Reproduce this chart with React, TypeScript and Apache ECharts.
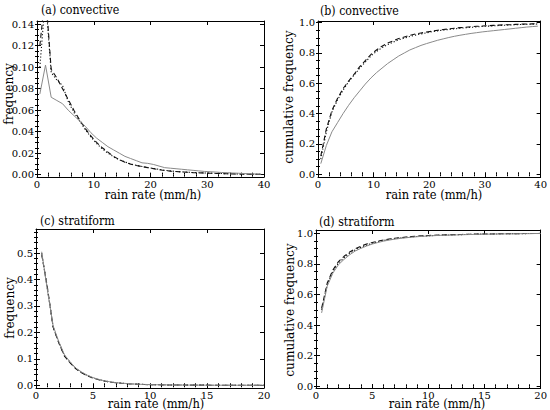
import React, { useEffect, useRef } from "react";
import * as echarts from "echarts";

// ---------- data ----------
const convX = [0.5, 1.5, 2.5, 3.5, 4.5, 5.5, 6.5, 7.5, 8.5, 9.5, 10.5, 11.5, 12.5, 13.5, 14.5, 15.5, 16.5, 17.5, 18.5, 19.5, 20.5, 21.5, 22.5, 23.5, 24.5, 25.5, 26.5, 27.5, 28.5, 29.5, 30.5, 31.5, 32.5, 33.5, 34.5, 35.5, 36.5, 37.5, 38.5, 39.5];

const convFreqSolid = [0.075, 0.102, 0.072, 0.069, 0.066, 0.060, 0.055, 0.050, 0.045, 0.039, 0.034, 0.030, 0.026, 0.023, 0.020, 0.017, 0.015, 0.013, 0.011, 0.0105, 0.0095, 0.008, 0.0065, 0.006, 0.0055, 0.005, 0.0045, 0.004, 0.0035, 0.003, 0.0027, 0.0024, 0.002, 0.0018, 0.0015, 0.0013, 0.001, 0.0008, 0.0006, 0.0004];
const convFreqDashed = [0.12, 0.17, 0.098, 0.090, 0.080, 0.070, 0.060, 0.051, 0.043, 0.036, 0.030, 0.025, 0.021, 0.017, 0.014, 0.0115, 0.0098, 0.0085, 0.0075, 0.0065, 0.0056, 0.0046, 0.0038, 0.0033, 0.0029, 0.0025, 0.0022, 0.0019, 0.0017, 0.0015, 0.0013, 0.0011, 0.001, 0.0008, 0.0007, 0.0006, 0.0005, 0.0004, 0.0003, 0.0002];
const convFreqDotted = [0.10, 0.165, 0.095, 0.088, 0.083, 0.068, 0.058, 0.050, 0.042, 0.035, 0.029, 0.024, 0.020, 0.0165, 0.0138, 0.0118, 0.010, 0.0087, 0.0076, 0.0066, 0.0058, 0.0049, 0.0041, 0.0035, 0.003, 0.0026, 0.0023, 0.002, 0.0018, 0.0016, 0.0014, 0.0012, 0.001, 0.0009, 0.0008, 0.0007, 0.0006, 0.0005, 0.0004, 0.0003];

const convCumSolid = [0.07, 0.19, 0.28, 0.34, 0.40, 0.455, 0.505, 0.55, 0.595, 0.635, 0.67, 0.70, 0.73, 0.755, 0.78, 0.80, 0.82, 0.835, 0.85, 0.862, 0.873, 0.884, 0.893, 0.902, 0.91, 0.917, 0.923, 0.929, 0.934, 0.939, 0.943, 0.947, 0.951, 0.955, 0.959, 0.963, 0.967, 0.971, 0.974, 0.977];
const convCumDashed = [0.12, 0.30, 0.42, 0.50, 0.565, 0.615, 0.66, 0.71, 0.75, 0.79, 0.82, 0.845, 0.865, 0.88, 0.895, 0.906, 0.916, 0.925, 0.932, 0.938, 0.944, 0.95, 0.955, 0.959, 0.963, 0.967, 0.97, 0.973, 0.976, 0.978, 0.98, 0.982, 0.984, 0.986, 0.987, 0.989, 0.99, 0.991, 0.992, 0.993];
const convCumDotted = [0.10, 0.28, 0.41, 0.49, 0.555, 0.61, 0.655, 0.70, 0.74, 0.78, 0.81, 0.835, 0.855, 0.872, 0.887, 0.898, 0.909, 0.918, 0.926, 0.933, 0.94, 0.946, 0.951, 0.955, 0.959, 0.963, 0.966, 0.969, 0.972, 0.975, 0.977, 0.979, 0.981, 0.983, 0.985, 0.986, 0.988, 0.989, 0.99, 0.991];

const stratX = [0.5, 1, 1.5, 2, 2.5, 3, 3.5, 4, 4.5, 5, 5.5, 6, 6.5, 7, 7.5, 8, 8.5, 9, 9.5, 10, 10.5, 11, 11.5, 12, 12.5, 13, 13.5, 14, 14.5, 15, 15.5, 16, 16.5, 17, 17.5, 18, 18.5, 19, 19.5, 20];

const stratFreqSolid = [0.505, 0.36, 0.225, 0.165, 0.115, 0.088, 0.065, 0.05, 0.038, 0.029, 0.022, 0.017, 0.013, 0.010, 0.008, 0.0065, 0.005, 0.004, 0.0032, 0.0026, 0.002, 0.0017, 0.0014, 0.0012, 0.001, 0.0008, 0.0007, 0.0006, 0.0005, 0.0004, 0.0003, 0.0003, 0.0002, 0.0002, 0.0002, 0.0001, 0.0001, 0.0001, 0.0001, 0.0001];
const stratFreqDashed = [0.495, 0.37, 0.22, 0.16, 0.11, 0.085, 0.062, 0.047, 0.036, 0.027, 0.021, 0.016, 0.012, 0.0095, 0.0075, 0.006, 0.0047, 0.0038, 0.003, 0.0024, 0.0019, 0.0016, 0.0013, 0.0011, 0.0009, 0.0008, 0.0007, 0.0006, 0.0005, 0.0004, 0.0003, 0.0003, 0.0002, 0.0002, 0.0002, 0.0001, 0.0001, 0.0001, 0.0001, 0.0001];
const stratFreqDotted = [0.50, 0.365, 0.222, 0.162, 0.112, 0.086, 0.063, 0.048, 0.037, 0.028, 0.0215, 0.0165, 0.0125, 0.0098, 0.0078, 0.0062, 0.0048, 0.0039, 0.0031, 0.0025, 0.002, 0.0016, 0.0013, 0.0011, 0.0009, 0.0008, 0.0007, 0.0006, 0.0005, 0.0004, 0.0003, 0.0003, 0.0002, 0.0002, 0.0002, 0.0001, 0.0001, 0.0001, 0.0001, 0.0001];

const stratCumSolid = [0.48, 0.655, 0.74, 0.795, 0.83, 0.86, 0.885, 0.902, 0.917, 0.93, 0.94, 0.949, 0.956, 0.962, 0.967, 0.971, 0.975, 0.978, 0.981, 0.983, 0.985, 0.987, 0.988, 0.989, 0.99, 0.991, 0.992, 0.993, 0.994, 0.995, 0.995, 0.996, 0.996, 0.997, 0.997, 0.998, 0.998, 0.998, 0.999, 0.999];
const stratCumDashed = [0.51, 0.675, 0.76, 0.815, 0.85, 0.878, 0.90, 0.916, 0.93, 0.94, 0.949, 0.957, 0.963, 0.968, 0.972, 0.976, 0.979, 0.982, 0.984, 0.986, 0.988, 0.989, 0.99, 0.991, 0.992, 0.993, 0.994, 0.995, 0.995, 0.996, 0.996, 0.997, 0.997, 0.998, 0.998, 0.998, 0.999, 0.999, 0.999, 1.0];
const stratCumDotted = [0.50, 0.665, 0.75, 0.805, 0.84, 0.87, 0.892, 0.909, 0.923, 0.935, 0.945, 0.953, 0.96, 0.965, 0.97, 0.974, 0.977, 0.98, 0.982, 0.984, 0.986, 0.988, 0.989, 0.99, 0.991, 0.992, 0.993, 0.994, 0.995, 0.995, 0.996, 0.996, 0.997, 0.997, 0.998, 0.998, 0.998, 0.999, 0.999, 0.999];

// tick labels
const convXTicks = [0, 10, 20, 30, 40];
const stratXTicks = [0, 5, 10, 15, 20];
const convFreqTicks = [0, 0.02, 0.04, 0.06, 0.08, 0.10, 0.12, 0.14];
const cumTicks = [0, 0.2, 0.4, 0.6, 0.8, 1.0];
const stratFreqTicks = [0, 0.1, 0.2, 0.3, 0.4, 0.5];

const titles = ["(a) convective", "(b) convective", "(c) stratiform", "(d) stratiform"];
const xName = "rain rate (mm/h)";
const yNames = ["frequency", "cumulative frequency", "frequency", "cumulative frequency"];

const FONT = "DejaVu Serif";

function steps(from: number, to: number, step: number): number[] {
  const out: number[] = [];
  const n = Math.round((to - from) / step);
  for (let i = 0; i <= n; i++) out.push(Math.round((from + i * step) * 1e6) / 1e6);
  return out;
}

type AxisSpec = { min: number; max: number; majors: number[]; minors: number[]; dec: number };

function makeAxes(dim: "x" | "y", gridIndex: number, s: AxisSpec) {
  const main = dim === "x" ? "bottom" : "left";
  const opp = dim === "x" ? "top" : "right";
  const base = { type: "value", gridIndex, min: s.min, max: s.max, splitLine: { show: false } };
  const line = { show: true, onZero: false, lineStyle: { color: "#000", width: 1 } };
  const majTick = { show: true, inside: true, length: 4, customValues: s.majors, lineStyle: { color: "#000", width: 1 } };
  const minTick = { show: true, inside: true, length: 2, customValues: s.minors, lineStyle: { color: "#000", width: 1 } };
  return [
    {
      ...base, position: main, axisLine: line, axisTick: majTick,
      axisLabel: {
        show: true, customValues: s.majors, margin: dim === "x" ? 2 : 3,
        formatter: (v: number) => v.toFixed(s.dec),
        fontFamily: FONT, fontSize: 10, lineHeight: 10, color: "#000",
      },
    },
    { ...base, position: main, axisLine: { show: false }, axisTick: minTick, axisLabel: { show: false } },
    { ...base, position: opp, axisLine: line, axisTick: majTick, axisLabel: { show: false } },
    { ...base, position: opp, axisLine: { show: false }, axisTick: minTick, axisLabel: { show: false } },
  ];
}

const grids = [
  { left: 37, top: 21, width: 227, height: 156 },
  { left: 318, top: 21, width: 225, height: 156 },
  { left: 36, top: 229, width: 228, height: 159 },
  { left: 316, top: 230, width: 227, height: 158 },
];

const xSpecs: AxisSpec[] = [
  { min: 0, max: 40, majors: convXTicks, minors: steps(0, 40, 2), dec: 0 },
  { min: 0, max: 40, majors: convXTicks, minors: steps(0, 40, 2), dec: 0 },
  { min: 0, max: 20, majors: stratXTicks, minors: steps(0, 20, 1), dec: 0 },
  { min: 0, max: 20, majors: stratXTicks, minors: steps(0, 20, 1), dec: 0 },
];
const ySpecs: AxisSpec[] = [
  { min: -0.0022, max: 0.143, majors: convFreqTicks, minors: steps(0, 0.14, 0.005), dec: 2 },
  { min: -0.018, max: 1.011, majors: cumTicks, minors: steps(0, 1, 0.05), dec: 1 },
  { min: -0.0103, max: 0.591, majors: stratFreqTicks, minors: steps(0, 0.58, 0.02), dec: 1 },
  { min: -0.011, max: 1.022, majors: cumTicks, minors: steps(0, 1, 0.05), dec: 1 },
];

const panelData = [
  { x: convX, ys: [convFreqSolid, convFreqDashed, convFreqDotted] },
  { x: convX, ys: [convCumSolid, convCumDashed, convCumDotted] },
  { x: stratX, ys: [stratFreqSolid, stratFreqDashed, stratFreqDotted] },
  { x: stratX, ys: [stratCumSolid, stratCumDashed, stratCumDotted] },
];

const lineStyles = [
  { color: "#8a8a8a", width: 1, type: "solid" },
  { color: "#111", width: 1.1, type: [5, 3] },
  { color: "#111", width: 1.1, type: [1.2, 2] },
];

// label placements (absolute)
const titlePos = [[41, 10], [320, 11], [40, 221], [319, 222]];
const xNamePos = [[153, 195], [434, 195], [156, 403.5], [437, 403.5]];
const yNamePos = [[8, 94], [288, 97], [9, 308], [289, 310]];

export default function App() {
  const ref = useRef<HTMLDivElement>(null);
  useEffect(() => {
    if (!ref.current) return;
    const chart = echarts.init(ref.current, undefined, { renderer: "svg" });
    const xAxis: any[] = [];
    const yAxis: any[] = [];
    const series: any[] = [];
    grids.forEach((_, gi) => {
      xAxis.push(...makeAxes("x", gi, xSpecs[gi]));
      yAxis.push(...makeAxes("y", gi, ySpecs[gi]));
      const pd = panelData[gi];
      pd.ys.forEach((ys, si) => {
        series.push({
          type: "line",
          xAxisIndex: gi * 4,
          yAxisIndex: gi * 4,
          data: pd.x.map((x, i) => [x, ys[i]]),
          showSymbol: false,
          symbol: "none",
          clip: true,
          lineStyle: lineStyles[si],
          z: 3 - si,
        });
      });
    });
    const graphic: any[] = [];
    titles.forEach((t, i) => {
      graphic.push({
        type: "text", x: titlePos[i][0], y: titlePos[i][1], scaleX: 0.85,
        style: { text: t, fontFamily: FONT, fontSize: 13, fill: "#000", align: "left", verticalAlign: "middle" },
      });
      graphic.push({
        type: "text", x: xNamePos[i][0], y: xNamePos[i][1], scaleX: 0.92,
        style: { text: xName, fontFamily: FONT, fontSize: 12.5, lineHeight: 11, fill: "#000", align: "center", verticalAlign: "middle" },
      });
      graphic.push({
        type: "text", x: yNamePos[i][0], y: yNamePos[i][1], rotation: Math.PI / 2, scaleX: 0.9,
        style: { text: yNames[i], fontFamily: FONT, fontSize: 13.5, fill: "#000", align: "center", verticalAlign: "middle" },
      });
    });
    chart.setOption({
      animation: false,
      backgroundColor: "#fff",
      grid: grids.map((g) => ({ ...g, containLabel: false })),
      xAxis,
      yAxis,
      series,
      graphic,
    });
    return () => chart.dispose();
  }, []);
  return (
    <div
      ref={ref}
      style={{ position: "absolute", left: 0, top: 0, width: 550, height: 410 }}
    />
  );
}
